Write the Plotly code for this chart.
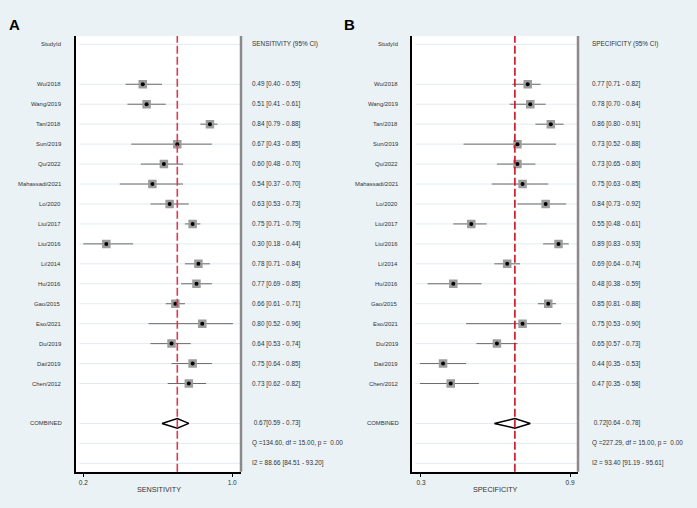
import plotly.graph_objects as go

# ---------------- data ----------------
studies = ["Wu/2018", "Wang/2019", "Tan/2018", "Sun/2019", "Qu/2022", "Mahassadi/2021",
           "Lo/2020", "Liu/2017", "Liu/2016", "Li/2014", "Hu/2016", "Gao/2015",
           "Eso/2021", "Du/2019", "Dai/2019", "Chen/2012"]

sens_est = [0.49, 0.51, 0.84, 0.67, 0.60, 0.54, 0.63, 0.75, 0.30, 0.78, 0.77, 0.66, 0.80, 0.64, 0.75, 0.73]
sens_lo  = [0.40, 0.41, 0.79, 0.43, 0.48, 0.37, 0.53, 0.71, 0.18, 0.71, 0.69, 0.61, 0.52, 0.53, 0.64, 0.62]
sens_hi  = [0.59, 0.61, 0.88, 0.85, 0.70, 0.70, 0.73, 0.79, 0.44, 0.84, 0.85, 0.71, 0.96, 0.74, 0.85, 0.82]
sens_pooled = (0.67, 0.59, 0.73)
sens_q = "Q =134.60, df = 15.00, p =  0.00"
sens_i2 = "I2 = 88.66 [84.51 - 93.20]"

spec_est = [0.77, 0.78, 0.86, 0.73, 0.73, 0.75, 0.84, 0.55, 0.89, 0.69, 0.48, 0.85, 0.75, 0.65, 0.44, 0.47]
spec_lo  = [0.71, 0.70, 0.80, 0.52, 0.65, 0.63, 0.73, 0.48, 0.83, 0.64, 0.38, 0.81, 0.53, 0.57, 0.35, 0.35]
spec_hi  = [0.82, 0.84, 0.91, 0.88, 0.80, 0.85, 0.92, 0.61, 0.93, 0.74, 0.59, 0.88, 0.90, 0.73, 0.53, 0.58]
spec_pooled = (0.72, 0.64, 0.78)
spec_q = "Q =227.29, df = 15.00, p =  0.00"
spec_i2 = "I2 = 93.40 [91.19 - 95.61]"

sens_ticks = ["0.2", "1.0"]
spec_ticks = ["0.3", "0.9"]

# ---------------- layout helpers ----------------
W, H = 697, 508
BG = "#eaf2f6"
FONT = "Liberation Sans, Arial, sans-serif"
TXT = "#333333"

n = len(studies)
study_rows = list(range(2, 2 + n))
comb_row = 2 + n + 1
q_row = comb_row + 1
i2_row = comb_row + 2
grid_rows = [0] + study_rows + [comb_row, q_row, i2_row]

fig = go.Figure()

panels = [
    dict(ax="", est=sens_est, lo=sens_lo, hi=sens_hi, pooled=sens_pooled, q=sens_q, i2=sens_i2,
         dom=(76 / W, 241 / W), rng=[0.142, 1.002], ticktext=sens_ticks, tickpos=[0.18, 0.956],
         label_x=63 / W, text_x=250 / W, header="SENSITIVITY (95% CI)", title="SENSITIVITY",
         red="#dd3a50", letter="A", letter_x=7 / W),
    dict(ax="2", est=spec_est, lo=spec_lo, hi=spec_hi, pooled=spec_pooled, q=spec_q, i2=spec_i2,
         dom=(412 / W, 578 / W), rng=[0.319, 0.966], ticktext=spec_ticks, tickpos=[0.354, 0.935],
         label_x=400 / W, text_x=590 / W, header="SPECIFICITY (95% CI)", title="SPECIFICITY",
         red="#cc1020", letter="B", letter_x=342 / W),
]

ydom = (1 - 471.7 / H, 1 - 36 / H)
shapes = []
annotations = []
LBL = 5.9
RTX = 6.4

for p in panels:
    xa = "x" + p["ax"]
    ya = "y" + p["ax"]
    # CI lines
    cx, cy = [], []
    for r, lo, hi in zip(study_rows, p["lo"], p["hi"]):
        cx += [lo, hi, None]
        cy += [r, r, None]
    fig.add_trace(go.Scatter(x=cx, y=cy, mode="lines", line=dict(color="#6a6a6a", width=1),
                             xaxis=xa, yaxis=ya, showlegend=False, hoverinfo="skip"))
    # gray squares + black dots
    fig.add_trace(go.Scatter(x=p["est"], y=study_rows, mode="markers",
                             marker=dict(symbol="square", size=8.5, color="#9c9c9c", line=dict(width=0)),
                             xaxis=xa, yaxis=ya, showlegend=False, hoverinfo="skip"))
    fig.add_trace(go.Scatter(x=p["est"], y=study_rows, mode="markers",
                             marker=dict(symbol="circle", size=4, color="black"),
                             xaxis=xa, yaxis=ya, showlegend=False, hoverinfo="skip"))
    # diamond
    e, l, h = p["pooled"]
    dh = 0.24
    fig.add_trace(go.Scatter(x=[l, e, h, e, l], y=[comb_row, comb_row - dh, comb_row, comb_row + dh, comb_row],
                             mode="lines", line=dict(color="black", width=1.5), fill="toself",
                             fillcolor="white", xaxis=xa, yaxis=ya, showlegend=False, hoverinfo="skip"))

    # gridlines
    for r in grid_rows:
        shapes.append(dict(type="line", xref=xa + " domain", yref=ya, x0=0.02, x1=1, y0=r, y1=r,
                           line=dict(color="#e0ecf2", width=1), layer="below"))
    # pooled red dashed line
    shapes.append(dict(type="line", xref=xa, yref=ya + " domain", x0=e, x1=e, y0=0, y1=1,
                       line=dict(color=p["red"], width=1.6, dash="8px,3px")))
    # right gray border
    shapes.append(dict(type="line", xref=xa + " domain", yref=ya + " domain", x0=1, x1=1, y0=0, y1=1,
                       line=dict(color="#8a8a8a", width=2.5)))

    # left labels
    annotations.append(dict(x=p["label_x"], y=0, xref="paper", yref=ya, text="StudyId",
                            showarrow=False, xanchor="right", font=dict(size=LBL, color=TXT, family=FONT)))
    for r, s in zip(study_rows, studies):
        annotations.append(dict(x=p["label_x"], y=r, xref="paper", yref=ya, text=s,
                                showarrow=False, xanchor="right", font=dict(size=LBL, color=TXT, family=FONT)))
    annotations.append(dict(x=p["label_x"] + 1 / W, y=comb_row, xref="paper", yref=ya, text="COMBINED",
                            showarrow=False, xanchor="right", font=dict(size=LBL, color=TXT, family=FONT)))
    # right column text
    right_rows = [(0, p["header"])]
    for r, es, lo, hi in zip(study_rows, p["est"], p["lo"], p["hi"]):
        right_rows.append((r, f"{es:.2f} [{lo:.2f} - {hi:.2f}]"))
    right_rows.append((comb_row, f" {e:.2f}[{l:.2f} - {h:.2f}]"))
    right_rows.append((q_row, p["q"]))
    right_rows.append((i2_row, p["i2"]))
    for r, t in right_rows:
        annotations.append(dict(x=p["text_x"], y=r, xref="paper", yref=ya, text=t,
                                showarrow=False, xanchor="left", font=dict(size=RTX, color=TXT, family=FONT)))
    # axis title
    annotations.append(dict(x=(p["dom"][0] + p["dom"][1]) / 2, y=1 - 489 / H, xref="paper", yref="paper",
                            text=p["title"], showarrow=False, xanchor="center", yanchor="middle",
                            font=dict(size=7.2, color=TXT, family=FONT)))
    # panel letter
    annotations.append(dict(x=p["letter_x"], y=1 - 24.5 / H, xref="paper", yref="paper",
                            text="<b>" + p["letter"] + "</b>", showarrow=False, xanchor="left", yanchor="middle",
                            font=dict(size=15, color="black", family=FONT)))

    axis_x = dict(domain=list(p["dom"]), range=p["rng"], showgrid=False, zeroline=False,
                  showline=True, linecolor="black", linewidth=1.5, ticks="outside", ticklen=4,
                  tickcolor="black", tickwidth=1.2, tickvals=p["tickpos"], ticktext=p["ticktext"],
                  tickfont=dict(size=6.5, color=TXT, family=FONT), anchor=ya, fixedrange=True)
    axis_y = dict(domain=list(ydom), range=[i2_row + 0.42, -0.42], showgrid=False, zeroline=False,
                  showticklabels=False, showline=True, linecolor="black", linewidth=1.5,
                  anchor=xa, fixedrange=True)
    if p["ax"] == "":
        fig.update_layout(xaxis=axis_x, yaxis=axis_y)
    else:
        fig.update_layout(xaxis2=axis_x, yaxis2=axis_y)

fig.update_layout(width=W, height=H, margin=dict(l=0, r=0, t=0, b=0),
                  paper_bgcolor=BG, plot_bgcolor="white", shapes=shapes, annotations=annotations,
                  showlegend=False, font=dict(family=FONT, color=TXT))

fig.write_html("out.html", config={"displayModeBar": False},
               post_script="document.body.style.margin='0';document.body.style.overflow='hidden';")
